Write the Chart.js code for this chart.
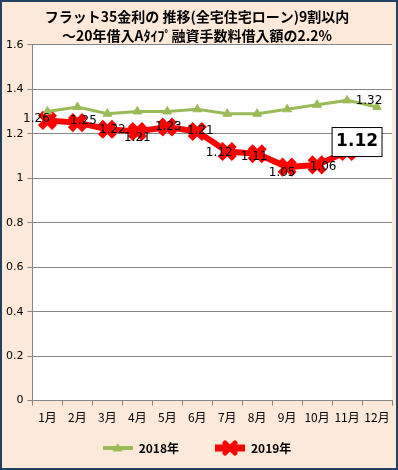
<!DOCTYPE html>
<html>
<head>
<meta charset="utf-8">
<script src="https://cdn.jsdelivr.net/npm/chart.js@4"></script>
<style>
  html, body { margin: 0; padding: 0; background: #fff; }
  #wrap { width: 398px; height: 470px; box-sizing: border-box; border: 2px solid #243F60; background: #FDE9D9; }
</style>
</head>
<body>
<div id="wrap"><canvas id="myChart" width="394" height="466"></canvas></div>
<script>
var months = ['1月','2月','3月','4月','5月','6月','7月','8月','9月','10月','11月','12月'];
var rate2018 = [1.30, 1.32, 1.29, 1.30, 1.30, 1.31, 1.29, 1.29, 1.31, 1.33, 1.35, 1.32];
var rate2019 = [1.26, 1.25, 1.22, 1.21, 1.23, 1.21, 1.12, 1.11, 1.05, 1.06, 1.12, null];
var titleLines = ['フラット35金利の 推移(全宅住宅ローン)9割以内', '～20年借入Aﾀｲﾌﾟ融資手数料借入額の2.2%'];

// label placement next to each point: [dx, dy], null = no label, 'box' = boxed big label
var shift2019 = [[-11,-2],[6,-2],[5,1],[0,6],[1,0],[3,-1],[-8,1],[-3,3],[-5,6],[6,2],'box',null];
var shift2018 = [null,null,null,null,null,null,null,null,null,null,null,[-8,-6]];

const JP = '"Noto Sans CJK JP", "DejaVu Sans", sans-serif';

// white plot area
const plotBg = {
  id: 'plotBg',
  beforeDraw(chart) {
    const a = chart.chartArea, c = chart.ctx;
    c.save();
    c.fillStyle = '#ffffff';
    c.fillRect(a.left, a.top, a.right - a.left, a.bottom - a.top);
    c.restore();
  }
};

// data labels
const valueLabels = {
  id: 'valueLabels',
  afterDatasetsDraw(chart) {
    const c = chart.ctx;
    chart.data.datasets.forEach((ds, i) => {
      const meta = chart.getDatasetMeta(i);
      const where = i == 0 ? shift2018 : shift2019;
      meta.data.forEach((pt, j) => {
        const v = ds.data[j];
        if (v == null || where[j] == null) return;
        const txt = v.toFixed(2);
        let x = pt.x, y = pt.y;
        c.save();
        c.fillStyle = '#000';
        c.textBaseline = 'middle';
        c.textAlign = 'center';
        c.font = '12px "DejaVu Sans", sans-serif';
        if (where[j] == 'box') {
          c.font = 'bold 17px "DejaVu Sans", sans-serif';
          x += 10; y -= 10;
          const w = c.measureText(txt).width + 8;
          c.strokeStyle = '#000';
          c.lineWidth = 1;
          c.fillStyle = '#fff';
          c.fillRect(x - w / 2, y - 14, w, 29);
          c.strokeRect(x - w / 2, y - 14, w, 29);
          c.fillStyle = '#000';
        } else {
          x += where[j][0]; y += where[j][1];
        }
        c.fillText(txt, x, y);
        c.restore();
      });
    });
  }
};

// legend swatch: short line with marker in the middle
function swatch(color, style, lw, r) {
  const cv = document.createElement('canvas');
  cv.width = 30; cv.height = 16;
  const g = cv.getContext('2d');
  g.strokeStyle = color; g.fillStyle = color; g.lineWidth = lw;
  g.beginPath(); g.moveTo(0, 8); g.lineTo(30, 8); g.stroke();
  if (style == 'triangle') {
    g.beginPath(); g.moveTo(15, 8 - r); g.lineTo(15 + r, 8 + r * 0.7); g.lineTo(15 - r, 8 + r * 0.7); g.closePath(); g.fill();
  } else {
    g.lineWidth = 5; g.lineCap = 'round';
    g.beginPath(); g.moveTo(15 - r, 8 - r); g.lineTo(15 + r, 8 + r); g.moveTo(15 + r, 8 - r); g.lineTo(15 - r, 8 + r); g.stroke();
  }
  return cv;
}

const ctx = document.getElementById('myChart');
const config = {
  type: 'line',
  data: {
    labels: months,
    datasets: [
      {
        label: '2018年',
        data: rate2018,
        borderColor: '#9BBB59',
        backgroundColor: '#9BBB59',
        borderWidth: 3,
        pointStyle: 'triangle',
        pointRadius: 5,
        pointBorderWidth: 1,
        tension: 0
      },
      {
        label: '2019年',
        data: rate2019,
        borderColor: '#FF0000',
        backgroundColor: '#FF0000',
        borderWidth: 6,
        pointStyle: 'crossRot',
        pointRadius: 10,
        pointBorderWidth: 7,
        tension: 0
      }
    ]
  },
  options: {
    responsive: false,
    animation: false,
    layout: { autoPadding: false, padding: { left: 0, right: 4, top: 0, bottom: 4 } },
    scales: {
      y: {
        min: 0,
        max: 1.6,
        ticks: {
          stepSize: 0.2,
          color: '#000',
          font: { size: 11, family: '"DejaVu Sans", sans-serif' },
          padding: 4,
          callback: v => Math.round(v * 10) / 10
        },
        grid: { color: '#868686', tickLength: 5, drawTicks: true },
        border: { color: '#868686' }
      },
      x: {
        offset: true,
        ticks: {
          color: '#000',
          font: { size: 12, family: JP },
          padding: 5,
          maxRotation: 0,
          autoSkip: false
        },
        grid: { drawOnChartArea: false, offset: true, tickLength: 5, color: '#868686' },
        border: { color: '#868686' }
      }
    },
    plugins: {
      title: {
        display: true,
        text: titleLines,
        color: '#000',
        font: { size: 14, family: JP, weight: 'bold', lineHeight: 1.35 },
        padding: { top: 5, bottom: 0 }
      },
      legend: {
        position: 'bottom',
        labels: {
          usePointStyle: true,
          pointStyleWidth: 30,
          color: '#000',
          font: { size: 12, family: JP, weight: 'bold' },
          padding: 12,
          generateLabels: chart => chart.data.datasets.map((ds, i) => ({
            text: i == 0 ? ds.label + '\u3000\u3000' : ds.label,
            fontColor: '#000',
            datasetIndex: i,
            pointStyle: i == 0 ? swatch('#9BBB59', 'triangle', 4, 5) : swatch('#FF0000', 'cross', 7, 5),
            lineWidth: 0,
            strokeStyle: 'transparent',
            fillStyle: 'transparent'
          }))
        }
      },
      tooltip: { enabled: false }
    }
  },
  plugins: [plotBg, valueLabels]
};
new Chart(ctx, config);
</script>
</body>
</html>
